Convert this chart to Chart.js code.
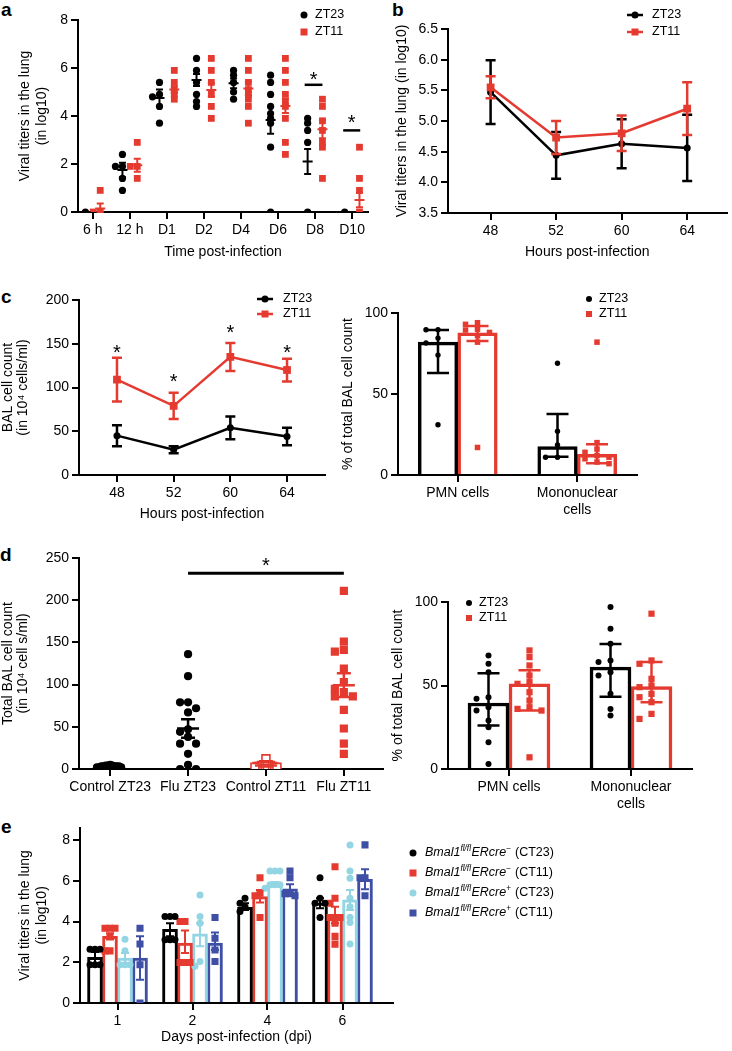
<!DOCTYPE html>
<html>
<head>
<meta charset="utf-8">
<script src="https://cdn.jsdelivr.net/npm/chart.js@4.4.1/dist/chart.umd.min.js"></script>
<style>
  html, body { margin: 0; padding: 0; background: #fff; }
  body { width: 732px; height: 1051px; position: relative; overflow: hidden; font-family: "Liberation Sans", Arial, sans-serif; }
  canvas { position: absolute; }
  .plabel { position: absolute; font-weight: bold; font-size: 19px; line-height: 1; color: #000; }
</style>
</head>
<body>
<div class="plabel" style="left:1px;top:0px">a</div>
<div class="plabel" style="left:392px;top:0px">b</div>
<div class="plabel" style="left:1px;top:287px">c</div>
<div class="plabel" style="left:0px;top:545px">d</div>
<div class="plabel" style="left:1px;top:817px">e</div>
<script>
// ======================= DATA =======================
// (a) Viral titers in the lung (log10), individual mice
const timeLabelsA = ['6 h', '12 h', 'D1', 'D2', 'D4', 'D6', 'D8', 'D10'];
const zt23TitersA = [
  [0], [2.4, 1.9, 1.9, 1.4, 0.9], [5.4, 4.9, 4.8, 4.4, 3.7], [6.4, 5.9, 5.4, 4.9, 4.6, 4.4],
  [5.9, 5.7, 5.4, 5.0, 4.7], [5.7, 5.4, 4.9, 4.4, 4.1, 3.9, 3.7, 2.7, 0], [3.9, 3.7, 3.4, 2.9, 0], [0]
];
const zt11TitersA = [
  [0.9, 0, 0], [2.9, 1.9, 1.9, 1.4], [5.9, 5.4, 5.1, 4.9, 4.7], [6.4, 5.9, 5.4, 4.9, 4.4, 3.9],
  [6.4, 5.9, 5.4, 5.1, 4.9, 4.7, 4.4, 3.7], [6.4, 5.9, 5.4, 4.9, 4.6, 4.4, 3.9, 2.9, 2.4],
  [4.7, 4.4, 3.8, 3.4, 2.9, 2.7, 1.4], [2.7, 1.4, 0.9, 0]
];
const zt23MeanA = [0, 1.75, 4.75, 5.5, 5.36, 3.83, 2.1, 0];
const zt23SemA  = [0, 0.3, 0.35, 0.25, 0.2, 0.57, 0.52, 0];
const zt11MeanA = [0.15, 1.95, 5.1, 5.08, 5.15, 4.42, 3.45, 0.5];
const zt11SemA  = [0.2, 0.27, 0.14, 0.28, 0.28, 0.3, 0.38, 0.3];
const sigA = [{x0: 5.72, x1: 6.2, y: 5.3, star: 5.72}, {x0: 6.76, x1: 7.22, y: 3.4, star: 3.95}];

// (b) Viral titers, mean ± SEM
const hoursLabels = ['48', '52', '60', '64'];
const zt23MeanB = [5.47, 4.44, 4.63, 4.56];
const zt23SemB  = [0.52, 0.38, 0.40, 0.54];
const zt11MeanB = [5.55, 4.73, 4.80, 5.20];
const zt11SemB  = [0.18, 0.27, 0.29, 0.43];

// (c) BAL cell count
const zt23MeanC = [45, 29, 54, 44];
const zt23SemC  = [12, 4, 13, 10];
const zt11MeanC = [109, 79, 135, 120];
const zt11SemC  = [25, 15, 16, 13];
const starsC    = [146, 112, 168, 146];
const cellTypes = ['PMN cells', ['Mononuclear', 'cells']];
const zt23PctC = [82, 17.5];
const zt23LoC  = [63, 11.3];
const zt23HiC  = [89.5, 37.6];
const zt11PctC = [87.8, 12.8];
const zt11LoC  = [82.7, 7.2];
const zt11HiC  = [92, 19];
const zt23PtsC = [[89.7, 89.7, 84.5, 81.5, 74, 31], [69, 27, 18.5, 11, 11]];
const zt11PtsC = [[94, 93, 90, 89.5, 88, 86, 82, 17], [82, 20, 16, 14, 12, 11, 10, 8, 7]];

// (d) Total BAL cell count and composition
const groupsD   = ['Control ZT23', 'Flu ZT23', 'Control ZT11', 'Flu ZT11'];
const ctrlZT23D = [5, 4, 4, 3, 3, 3, 3, 2, 2, 2, 4, 3];
const fluZT23D  = [136, 110, 79, 79, 72, 67, 47, 44, 38, 30, 30, 18, 5, 0, 0];
const ctrlZT11D = [12, 5, 4, 3, 3, 2, 2, 4, 3, 5, 2, 3];
const fluZT11D  = [211, 151, 141, 139, 119, 103, 95, 91, 86, 86, 70, 48, 30, 18];
const meanD = [3, 48, 4, 99.3];
const semD  = [0.4, 11, 1, 14];
const sigD  = {x0: 1, x1: 3, y: 232, star: 247};
const zt23PctD = [39.5, 61];
const zt23LoD  = [26, 43.3];
const zt23HiD  = [57.4, 74.8];
const zt11PctD = [51, 49.3];
const zt11LoD  = [35, 40];
const zt11HiD  = [59.2, 64];
const zt23PtsD = [[68, 63, 58, 43, 42, 37, 35, 29, 25, 16, 3], [97, 84, 75, 65, 64, 58, 56, 45, 36, 32]];
const zt11PtsD = [[71, 67, 62, 56, 52, 51, 46, 41, 37, 36, 35, 7], [93, 65, 63, 54, 50, 49, 45, 43, 40, 33, 30]];

// (e) Viral titers by genotype
const dpiLabels = ['1', '2', '4', '6'];
const creNegCT23MeanE = [2.24, 3.62, 4.70, 4.90];
const creNegCT23LoE   = [1.95, 3.27, 4.57, 4.65];
const creNegCT23HiE   = [2.50, 3.92, 4.90, 5.14];
const creNegCT11MeanE = [3.27, 2.94, 5.22, 4.33];
const creNegCT11LoE   = [3.12, 2.45, 4.93, 3.92];
const creNegCT11HiE   = [3.42, 3.56, 5.55, 4.73];
const crePosCT23MeanE = [2.20, 3.40, 5.83, 5.06];
const crePosCT23LoE   = [1.96, 2.78, 5.71, 4.57];
const crePosCT23HiE   = [2.45, 3.92, 5.94, 5.55];
const crePosCT11MeanE = [2.20, 2.94, 5.60, 6.07];
const crePosCT11LoE   = [1.14, 2.60, 5.39, 5.58];
const crePosCT11HiE   = [3.27, 3.46, 5.83, 6.56];
const creNegCT23PtsE = [[2.64, 2.64, 2.64, 1.88, 1.88, 1.88], [4.24, 4.24, 4.24, 3.1, 3.1, 3.1], [5.14, 4.9, 4.73, 4.49], [6.15, 5.14, 4.9, 4.9, 4.2]];
const creNegCT11PtsE = [[3.67, 3.67, 3.67, 3.27, 2.56, 2.56], [4.0, 4.0, 1.99, 1.99, 1.99], [6.15, 5.39, 5.26, 4.2], [6.69, 5.14, 4.9, 4.2, 4.2, 4.2, 3.92, 3.27, 2.89]];
const crePosCT23PtsE = [[3.13, 2.56, 1.88, 1.88, 1.88], [5.3, 4.24, 3.92, 2.04, 1.8], [6.48, 6.48, 6.48, 5.8, 5.8, 5.8, 5.63], [7.76, 6.48, 6.12, 5.14, 4.73, 4.21, 3.95, 2.89]];
const crePosCT11PtsE = [[3.67, 2.9, 1.88, 0], [4.2, 3.18, 2.6, 2.04], [6.48, 6.15, 5.36, 5.36, 5.26], [7.76, 6.15, 6.15, 5.26]];

// ======================= STYLE =======================
const FONT = '"Liberation Sans", Arial, Helvetica, sans-serif';
const BLACK = '#000000', RED = '#E53A2F', LBLUE = '#93D5E3', DBLUE = '#3E4FA5';
const TICKFONT = {family: FONT, size: 14};

// ======================= HELPERS =======================
function swarm(vals, cx, pxX, pxY, step, thr) {
  const idx = vals.map((v, i) => i).sort((a, b) => vals[b] - vals[a]);
  const placed = [], out = [];
  idx.forEach(i => {
    const py = vals[i] * pxY;
    for (let k = 0; k < 80; k++) {
      const n = Math.ceil(k / 2), off = (k % 2 ? -n : n) * step;
      if (placed.every(p => Math.abs(p.x - off) >= step * 0.99 || Math.abs(p.y - py) >= thr)) {
        placed.push({x: off, y: py});
        out.push({x: cx + off / pxX, y: vals[i]});
        break;
      }
    }
  });
  return out;
}
function groupsToPoints(groups, offset, pxX, pxY, step, thr) {
  let pts = [];
  groups.forEach((g, i) => { pts = pts.concat(swarm(g, i + offset, pxX, pxY, step, thr)); });
  return pts;
}
const gridStyle = () => ({drawOnChartArea: false, drawTicks: true, tickLength: 7, color: '#000', lineWidth: 2, offset: false});
const borderStyle = () => ({display: true, color: '#000', width: 2});

function yScale(o) {
  return {
    type: 'linear', position: 'left', min: o.min, max: o.max, stacked: false,
    ticks: {stepSize: o.step, includeBounds: false, color: '#000', font: TICKFONT, padding: 3,
            callback: o.fmt || (v => String(v))},
    grid: gridStyle(), border: borderStyle(),
    title: {display: true, text: o.title, color: '#000', font: {family: FONT, size: 14, lineHeight: o.lh || 1.2}, padding: 0}
  };
}
function xLinear(o) {
  return {
    type: 'linear', position: 'bottom', min: o.min, max: o.max, offset: false,
    afterBuildTicks: s => { s.ticks = o.labels.map((lab, i) => ({value: i})); },
    ticks: {autoSkip: false, maxRotation: 0, color: '#000', font: TICKFONT, padding: 3,
            callback: v => { const r = Math.round(v); return (Math.abs(r - v) < 1e-6 && o.labels[r] !== undefined) ? o.labels[r] : ''; }},
    grid: gridStyle(), border: borderStyle(),
    title: o.title ? {display: true, text: o.title, color: '#000', font: {family: FONT, size: 14}, padding: {top: 0, bottom: 4}} : {display: false}
  };
}

const errPlugin = {
  id: 'errbars',
  afterDatasetDraw(chart, args) {
    const ds = chart.data.datasets[args.index];
    if (!ds.err) return;
    const meta = args.meta, ctx = chart.ctx, ys = chart.scales[meta.yAxisID];
    const e = ds.err;
    ctx.save();
    ctx.strokeStyle = e.color; ctx.lineWidth = e.width || 2; ctx.lineCap = 'butt';
    meta.data.forEach((el, i) => {
      const lo = e.lo[i], hi = e.hi[i];
      if (lo == null || hi == null) return;
      const x = el.x, y1 = ys.getPixelForValue(lo), y2 = ys.getPixelForValue(hi), c = e.cap / 2;
      ctx.beginPath();
      ctx.moveTo(x, y1); ctx.lineTo(x, y2);
      ctx.moveTo(x - c, y1); ctx.lineTo(x + c, y1);
      ctx.moveTo(x - c, y2); ctx.lineTo(x + c, y2);
      if (e.mean) { ctx.moveTo(x - e.mean / 2, el.y); ctx.lineTo(x + e.mean / 2, el.y); }
      ctx.stroke();
    });
    ctx.restore();
  }
};

function drawMarks(chart, m) {
  if (!m) return;
  const xs = chart.scales.x, ys = chart.scales.y, ctx = chart.ctx;
  ctx.save();
  ctx.strokeStyle = '#000'; ctx.lineWidth = m.lineWidth || 2.5;
  (m.lines || []).forEach(l => {
    const y = ys.getPixelForValue(l.y);
    ctx.beginPath(); ctx.moveTo(xs.getPixelForValue(l.x0), y); ctx.lineTo(xs.getPixelForValue(l.x1), y); ctx.stroke();
  });
  const sz = m.starSize || 20;
  ctx.fillStyle = '#000'; ctx.font = sz + 'px ' + FONT; ctx.textAlign = 'center'; ctx.textBaseline = 'alphabetic';
  (m.stars || []).forEach(s => ctx.fillText('*', xs.getPixelForValue(s.x), ys.getPixelForValue(s.y) + 0.57 * sz));
  ctx.restore();
}

function drawKeys(ctx, k, cl, ct) {
  if (!k) return;
  const fs = k.size || 12.5;
  k.items.forEach(it => {
    const x = it.x - cl, y = it.y - ct;
    ctx.save();
    if (it.line) {
      ctx.strokeStyle = it.color; ctx.lineWidth = 2.5;
      ctx.beginPath(); ctx.moveTo(x - 8, y); ctx.lineTo(x + 8, y); ctx.stroke();
    }
    ctx.fillStyle = it.color;
    if (it.shape === 'circle') { ctx.beginPath(); ctx.arc(x, y, it.msize / 2, 0, 2 * Math.PI); ctx.fill(); }
    else ctx.fillRect(x - it.msize / 2, y - it.msize / 2, it.msize, it.msize);
    let tx = it.tx - cl;
    ctx.fillStyle = '#000'; ctx.textBaseline = 'middle'; ctx.textAlign = 'left';
    (it.segs || [{t: it.text}]).forEach(s => {
      const size = s.sup ? fs * 0.66 : fs;
      ctx.font = (s.italic ? 'italic ' : '') + size + 'px ' + FONT;
      ctx.fillText(s.t, tx, y + (s.sup ? -fs * 0.38 : 0));
      tx += ctx.measureText(s.t).width + (s.sup ? 0.5 : 0);
    });
    ctx.restore();
  });
}

let chartCount = 0;
function build(p) {
  const cl = p.cl, ct = p.ct, A = p.area;
  const W = Math.ceil(p.cr - cl);
  const H = Math.ceil(A.b + p.xH - ct);
  const padT = A.t - ct, padR = W - (A.r - cl), padB = H - (A.b + p.xH - ct);
  const yW = A.l - cl;
  const cv = document.createElement('canvas');
  cv.width = W; cv.height = H;
  cv.style.left = cl + 'px'; cv.style.top = ct + 'px';
  cv.style.width = W + 'px'; cv.style.height = H + 'px';
  document.body.appendChild(cv);
  p.scales.y.afterFit = s => { s.width = yW; };
  p.scales.x.afterFit = s => { s.height = p.xH; };
  chartCount++;
  const local = {
    id: 'local' + chartCount,
    afterDatasetsDraw(chart) { drawMarks(chart, p.marks); },
    afterDraw(chart) { drawKeys(chart.ctx, p.keys, cl, ct); }
  };
  return new Chart(cv, {
    type: p.type, data: p.data,
    options: {
      responsive: false, maintainAspectRatio: false, animation: false, events: [], devicePixelRatio: 1,
      layout: {padding: {left: 0, top: padT, right: padR, bottom: padB}},
      plugins: {legend: {display: false}, tooltip: {enabled: false}},
      scales: p.scales
    },
    plugins: [errPlugin, local]
  });
}
function pxPer(area, xmin, xmax, ymin, ymax) {
  return {x: (area.r - area.l) / (xmax - xmin), y: (area.b - area.t) / (ymax - ymin)};
}
function meanPoints(means, offset) { return means.map((m, i) => ({x: i + offset, y: m})); }
function lo(means, sems, floor) { return means.map((m, i) => Math.max(floor, m - sems[i])); }
function hi(means, sems) { return means.map((m, i) => m + sems[i]); }
function barSet(label, values, offset, color, thickness, bw, errLo, errHi, cap, ew) {
  return {type: 'bar', label, data: meanPoints(values, offset), grouped: false, barThickness: thickness,
    backgroundColor: '#fff', borderColor: color, borderWidth: bw, order: 3,
    err: {lo: errLo, hi: errHi, cap, color, width: ew}};
}

// ======================= PANEL a =======================
(function () {
  const area = {l: 78, t: 20, r: 368, b: 212};
  const xr = [-0.4, 7.43], yr = [0, 8];
  const g = pxPer(area, xr[0], xr[1], yr[0], yr[1]);
  build({
    type: 'scatter', cl: 17, ct: 0, cr: 380, area, xH: 53,
    scales: {
      x: xLinear({min: xr[0], max: xr[1], labels: timeLabelsA, title: 'Time post-infection'}),
      y: yScale({min: yr[0], max: yr[1], step: 2, title: ['Viral titers in the lung', '(in log10)']})
    },
    data: {datasets: [
      {label: 'ZT23', data: groupsToPoints(zt23TitersA, -0.2, g.x, g.y, 7, 4.2), pointStyle: 'circle', pointRadius: 3.6,
       backgroundColor: BLACK, borderColor: BLACK, borderWidth: 0, order: 2},
      {label: 'ZT11', data: groupsToPoints(zt11TitersA, 0.2, g.x, g.y, 7, 4.2), pointStyle: 'rect', pointRadius: 4.8,
       backgroundColor: RED, borderColor: RED, borderWidth: 0, order: 2},
      {label: 'ZT23 mean', data: meanPoints(zt23MeanA, -0.2), pointRadius: 0, order: 0,
       err: {lo: lo(zt23MeanA, zt23SemA, 0), hi: hi(zt23MeanA, zt23SemA), cap: 7, mean: 10, color: BLACK, width: 2}},
      {label: 'ZT11 mean', data: meanPoints(zt11MeanA, 0.2), pointRadius: 0, order: 0,
       err: {lo: lo(zt11MeanA, zt11SemA, 0), hi: hi(zt11MeanA, zt11SemA), cap: 7, mean: 10, color: RED, width: 2}}
    ]},
    marks: {lines: sigA.map(s => ({x0: s.x0, x1: s.x1, y: s.y})), stars: sigA.map(s => ({x: (s.x0 + s.x1) / 2, y: s.star}))},
    keys: {items: [
      {x: 304, y: 15, shape: 'circle', color: BLACK, msize: 7, tx: 315, text: 'ZT23'},
      {x: 304, y: 32, shape: 'rect', color: RED, msize: 7, tx: 315, text: 'ZT11'}
    ]}
  });
})();

// ======================= PANEL b =======================
(function () {
  const area = {l: 448, t: 29, r: 728, b: 213};
  build({
    type: 'scatter', cl: 394, ct: 0, cr: 732, area, xH: 52,
    scales: {
      x: xLinear({min: -0.65, max: 3.6, labels: hoursLabels, title: 'Hours post-infection'}),
      y: yScale({min: 3.5, max: 6.5, step: 0.5, title: 'Viral titers in the lung (in log10)', fmt: v => v.toFixed(1)})
    },
    data: {datasets: [
      {label: 'ZT11', data: meanPoints(zt11MeanB, 0), showLine: true, borderColor: RED, borderWidth: 2.5,
       pointStyle: 'rect', pointRadius: 5.5, pointBackgroundColor: RED, pointBorderColor: RED, pointBorderWidth: 0, order: 0,
       err: {lo: lo(zt11MeanB, zt11SemB, -99), hi: hi(zt11MeanB, zt11SemB), cap: 10, color: RED, width: 2.5}},
      {label: 'ZT23', data: meanPoints(zt23MeanB, 0), showLine: true, borderColor: BLACK, borderWidth: 2.5,
       pointStyle: 'circle', pointRadius: 3.5, pointBackgroundColor: BLACK, pointBorderColor: BLACK, pointBorderWidth: 0, order: 1,
       err: {lo: lo(zt23MeanB, zt23SemB, -99), hi: hi(zt23MeanB, zt23SemB), cap: 10, color: BLACK, width: 2.5}}
    ]},
    keys: {items: [
      {x: 635, y: 15, line: true, shape: 'circle', color: BLACK, msize: 7, tx: 652, text: 'ZT23'},
      {x: 635, y: 32, line: true, shape: 'rect', color: RED, msize: 7, tx: 652, text: 'ZT11'}
    ]}
  });
})();

// ======================= PANEL c (left) =======================
(function () {
  const area = {l: 79, t: 300, r: 325, b: 475};
  build({
    type: 'scatter', cl: 0, ct: 270, cr: 335, area, xH: 52,
    scales: {
      x: xLinear({min: -0.67, max: 3.67, labels: hoursLabels, title: 'Hours post-infection'}),
      y: yScale({min: 0, max: 200, step: 50, title: ['BAL cell count', '(in 10\u2074 cells/ml)'], lh: 1.1})
    },
    data: {datasets: [
      {label: 'ZT11', data: meanPoints(zt11MeanC, 0), showLine: true, borderColor: RED, borderWidth: 2.5,
       pointStyle: 'rect', pointRadius: 5.5, pointBackgroundColor: RED, pointBorderColor: RED, pointBorderWidth: 0, order: 0,
       err: {lo: lo(zt11MeanC, zt11SemC, 0), hi: hi(zt11MeanC, zt11SemC), cap: 10, color: RED, width: 2.5}},
      {label: 'ZT23', data: meanPoints(zt23MeanC, 0), showLine: true, borderColor: BLACK, borderWidth: 2.5,
       pointStyle: 'circle', pointRadius: 3.5, pointBackgroundColor: BLACK, pointBorderColor: BLACK, pointBorderWidth: 0, order: 1,
       err: {lo: lo(zt23MeanC, zt23SemC, 0), hi: hi(zt23MeanC, zt23SemC), cap: 10, color: BLACK, width: 2.5}}
    ]},
    marks: {stars: starsC.map((s, i) => ({x: i, y: s}))},
    keys: {items: [
      {x: 265, y: 299, line: true, shape: 'circle', color: BLACK, msize: 7, tx: 283, text: 'ZT23'},
      {x: 265, y: 314, line: true, shape: 'rect', color: RED, msize: 7, tx: 283, text: 'ZT11'}
    ]}
  });
})();

// ======================= PANEL c (right) =======================
(function () {
  const area = {l: 398, t: 313, r: 637, b: 475};
  const g = pxPer(area, -0.5, 1.5, 0, 100);
  const barW = 39.5, off = barW / 2 / g.x;
  build({
    type: 'bar', cl: 340, ct: 270, cr: 660, area, xH: 45,
    scales: {
      x: xLinear({min: -0.5, max: 1.5, labels: cellTypes}),
      y: yScale({min: 0, max: 100, step: 50, title: '% of total BAL cell count'})
    },
    data: {datasets: [
      barSet('ZT23', zt23PctC, -off, BLACK, barW, 3.5, zt23LoC, zt23HiC, 22, 2.5),
      barSet('ZT11', zt11PctC, off, RED, barW, 3.5, zt11LoC, zt11HiC, 22, 2.5),
      {type: 'scatter', label: 'ZT23 pts', data: groupsToPoints(zt23PtsC, -off, g.x, g.y, 12, 5),
       pointStyle: 'circle', pointRadius: 2.7, backgroundColor: BLACK, borderWidth: 0, order: 1},
      {type: 'scatter', label: 'ZT11 pts', data: groupsToPoints(zt11PtsC, off, g.x, g.y, 12, 5),
       pointStyle: 'rect', pointRadius: 3.9, backgroundColor: RED, borderWidth: 0, order: 1}
    ]},
    keys: {items: [
      {x: 589, y: 299, shape: 'circle', color: BLACK, msize: 6, tx: 599, text: 'ZT23'},
      {x: 589, y: 314, shape: 'rect', color: RED, msize: 6, tx: 599, text: 'ZT11'}
    ]}
  });
})();

// ======================= PANEL d (left) =======================
(function () {
  const area = {l: 79, t: 558, r: 383, b: 769};
  const xr = [-0.4, 3.5], g = pxPer(area, xr[0], xr[1], 0, 250);
  build({
    type: 'scatter', cl: 0, ct: 530, cr: 390, area, xH: 30,
    scales: {
      x: xLinear({min: xr[0], max: xr[1], labels: groupsD}),
      y: yScale({min: 0, max: 250, step: 50, title: ['Total BAL cell count', '(in 10\u2074 cell s/ml)'], lh: 1.1})
    },
    data: {datasets: [
      {label: 'Control ZT23', data: swarm(ctrlZT23D, 0, g.x, g.y, 2.2, 7), pointStyle: 'circle', pointRadius: 4.1,
       backgroundColor: BLACK, borderWidth: 0, order: 2},
      {label: 'Flu ZT23', data: swarm(fluZT23D, 1, g.x, g.y, 8, 7), pointStyle: 'circle', pointRadius: 4.1,
       backgroundColor: BLACK, borderWidth: 0, order: 2},
      {label: 'Control ZT11', data: swarm(ctrlZT11D, 2, g.x, g.y, 2.2, 7), pointStyle: 'rect', pointRadius: 5.6,
       backgroundColor: '#fff', borderColor: RED, borderWidth: 1.6, order: 2},
      {label: 'Flu ZT11', data: swarm(fluZT11D, 3, g.x, g.y, 9, 7), pointStyle: 'rect', pointRadius: 5.8,
       backgroundColor: RED, borderWidth: 0, order: 2},
      {label: 'ZT23 mean', data: meanPoints(meanD.slice(0, 2), 0), pointRadius: 0, order: 0,
       err: {lo: lo(meanD.slice(0, 2), semD.slice(0, 2), 0), hi: hi(meanD.slice(0, 2), semD.slice(0, 2)), cap: 14, mean: 22, color: BLACK, width: 2.5}},
      {label: 'ZT11 mean', data: meanPoints(meanD.slice(2), 2), pointRadius: 0, order: 0,
       err: {lo: lo(meanD.slice(2), semD.slice(2), 0), hi: hi(meanD.slice(2), semD.slice(2)), cap: 14, mean: 22, color: RED, width: 2.5}}
    ]},
    marks: {lines: [{x0: sigD.x0, x1: sigD.x1, y: sigD.y}], stars: [{x: (sigD.x0 + sigD.x1) / 2, y: sigD.star}], lineWidth: 3}
  });
})();

// ======================= PANEL d (right) =======================
(function () {
  const area = {l: 448, t: 602, r: 692, b: 769};
  const g = pxPer(area, -0.5, 1.5, 0, 100);
  const barW = 41, off = barW / 2 / g.x;
  build({
    type: 'bar', cl: 390, ct: 560, cr: 712, area, xH: 45,
    scales: {
      x: xLinear({min: -0.5, max: 1.5, labels: cellTypes}),
      y: yScale({min: 0, max: 100, step: 50, title: '% of total BAL cell count'})
    },
    data: {datasets: [
      barSet('ZT23', zt23PctD, -off, BLACK, barW, 3.5, zt23LoD, zt23HiD, 22, 2.5),
      barSet('ZT11', zt11PctD, off, RED, barW, 3.5, zt11LoD, zt11HiD, 22, 2.5),
      {type: 'scatter', label: 'ZT23 pts', data: groupsToPoints(zt23PtsD, -off, g.x, g.y, 12, 6),
       pointStyle: 'circle', pointRadius: 3, backgroundColor: BLACK, borderWidth: 0, order: 1},
      {type: 'scatter', label: 'ZT11 pts', data: groupsToPoints(zt11PtsD, off, g.x, g.y, 12, 6),
       pointStyle: 'rect', pointRadius: 4.4, backgroundColor: RED, borderWidth: 0, order: 1}
    ]},
    keys: {items: [
      {x: 469, y: 603, shape: 'circle', color: BLACK, msize: 6, tx: 479, text: 'ZT23'},
      {x: 469, y: 618, shape: 'rect', color: RED, msize: 6, tx: 479, text: 'ZT11'}
    ]}
  });
})();

// ======================= PANEL e =======================
(function () {
  const ymax = 8.6;
  const xmax = 3.5 + 13 / 75;
  const area = {l: 80, t: 1003 - ymax * (163 / 8), r: 393, b: 1003};
  const g = pxPer(area, -0.5, xmax, 0, ymax);
  const barW = 15, off = j => (j - 1.5) * barW / g.x;
  const colors = [BLACK, RED, LBLUE, DBLUE];
  const means = [creNegCT23MeanE, creNegCT11MeanE, crePosCT23MeanE, crePosCT11MeanE];
  const los = [creNegCT23LoE, creNegCT11LoE, crePosCT23LoE, crePosCT11LoE];
  const his = [creNegCT23HiE, creNegCT11HiE, crePosCT23HiE, crePosCT11HiE];
  const pts = [creNegCT23PtsE, creNegCT11PtsE, crePosCT23PtsE, crePosCT11PtsE];
  const shapes = ['circle', 'rect', 'circle', 'rect'];
  const names = ['Bmal1fl/fl ERcre\u2212 (CT23)', 'Bmal1fl/fl ERcre\u2212 (CT11)', 'Bmal1fl/fl ERcre+ (CT23)', 'Bmal1fl/fl ERcre+ (CT11)'];
  const datasets = [];
  means.forEach((m, j) => datasets.push(barSet(names[j], m, off(j), colors[j], barW, 3, los[j], his[j], 8, 2)));
  pts.forEach((p, j) => datasets.push({type: 'scatter', label: names[j] + ' pts',
    data: groupsToPoints(p, off(j), g.x, g.y, 5, 5), pointStyle: shapes[j], pointRadius: shapes[j] === 'circle' ? 3.5 : 5,
    backgroundColor: colors[j], borderWidth: 0, order: 1}));
  const segs = (sign, ct) => [{t: 'Bmal1', italic: true}, {t: 'fl/fl', italic: true, sup: true}, {t: 'ERcre', italic: true},
    {t: sign, sup: true}, {t: ' (' + ct + ')'}];
  build({
    type: 'bar', cl: 17, ct: 805, cr: 732, area, xH: 47,
    scales: {
      x: xLinear({min: -0.5, max: xmax, labels: dpiLabels, title: 'Days post-infection (dpi)'}),
      y: yScale({min: 0, max: ymax, step: 2, title: ['Viral titers in the lung', '(in log10)']})
    },
    data: {datasets},
    keys: {items: [
      {x: 413, y: 853, shape: 'circle', color: BLACK, msize: 7, tx: 425, segs: segs('\u2212', 'CT23')},
      {x: 413, y: 873, shape: 'rect', color: RED, msize: 7, tx: 425, segs: segs('\u2212', 'CT11')},
      {x: 413, y: 893, shape: 'circle', color: LBLUE, msize: 7, tx: 425, segs: segs('+', 'CT23')},
      {x: 413, y: 913, shape: 'rect', color: DBLUE, msize: 7, tx: 425, segs: segs('+', 'CT11')}
    ]}
  });
})();
</script>
</body>
</html>
